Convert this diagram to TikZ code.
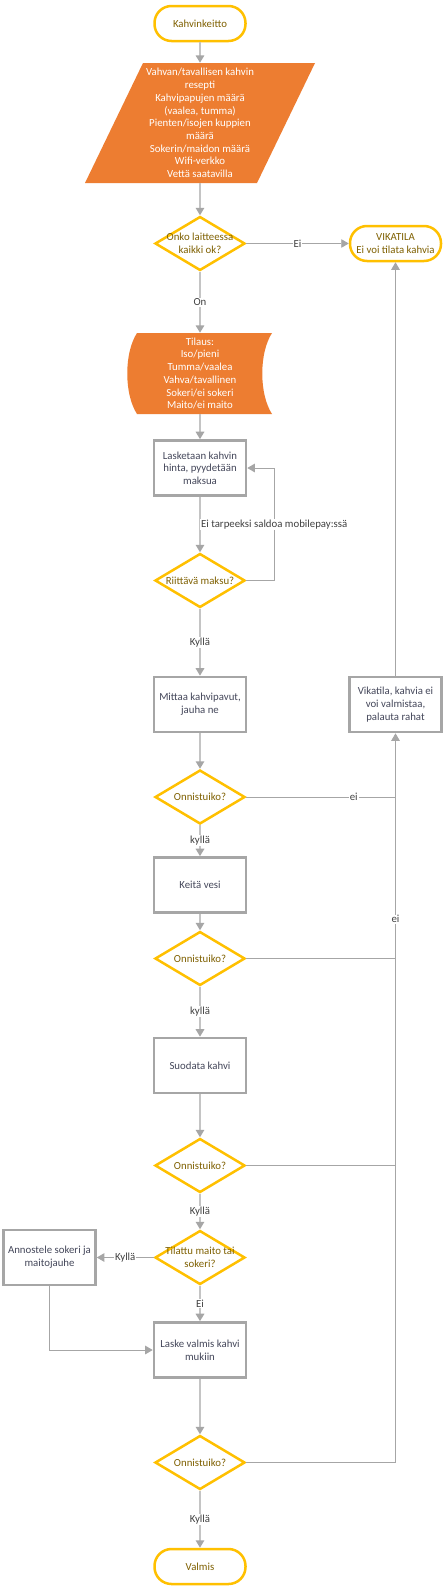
\documentclass[tikz,border=0pt]{standalone}
\usepackage{fontspec}
\setmainfont{Carlito}
\usetikzlibrary{shapes.geometric,arrows.meta}
\definecolor{gold}{HTML}{FFC000}
\definecolor{orng}{HTML}{ED7D31}
\definecolor{gtext}{HTML}{7F6000}
\definecolor{btext}{HTML}{44475A}
\definecolor{lgray}{HTML}{A6A6A6}
\definecolor{flowgray}{HTML}{C4C4C4}
\definecolor{ltext}{HTML}{404040}
\begin{document}
\begin{tikzpicture}[x=1pt,y=-1pt,
  font=\fontsize{10.8}{12.7}\selectfont,
  term/.style={rectangle, rounded corners=17pt, draw=gold, line width=2.5pt,
    minimum width=91pt, minimum height=35pt, text=gtext, align=center, inner sep=0pt},
  decision/.style={diamond, draw=gold, line width=2.5pt, minimum width=90pt,
    minimum height=54pt, inner sep=0pt},
  dtext/.style={text=gtext, align=center, inner sep=0pt},
  procbox/.style={rectangle, draw=lgray, line width=2.6pt, minimum width=92pt,
    minimum height=55pt, text=btext, align=center, inner sep=0pt},
  orangetext/.style={text=white, align=center, inner sep=0pt},
  flow/.style={draw=flowgray, line width=1.6pt,
    -{Triangle[width=8.5pt,length=7.5pt,color=lgray]}},
  sideline/.style={draw=lgray, line width=0.9pt},
  sidearrow/.style={draw=lgray, line width=0.9pt,
    -{Triangle[width=8.5pt,length=7.5pt,color=lgray]}},
  lbl/.style={fill=white, text=ltext, inner sep=1pt}
]
\fill[white] (0,0) rectangle (445,1590);
\useasboundingbox (0,0) rectangle (445,1590);

% shapes with custom outlines
\fill[orng] (143,63) -- (315,63) -- (257,183) -- (85,183) -- cycle;
\fill[orng] (137,333) -- (272,333) .. controls (259,353) and (259,394) .. (272,414)
  -- (137,414) .. controls (124,394) and (124,353) .. (137,333) -- cycle;

% nodes
\node[term] (start) at (200,23.5) {Kahvinkeitto};
\node[orangetext, minimum width=172pt, minimum height=120pt] (input) at (200,123)
  {Vahvan/tavallisen kahvin\\resepti\\Kahvipapujen määrä\\(vaalea, tumma)\\Pienten/isojen kuppien\\määrä\\Sokerin/maidon määrä\\Wifi-verkko\\Vettä saatavilla};
\node[decision] (d1) at (200,243.5) {};
\node[dtext] (d1t) at (d1) {Onko laitteessa\\kaikki ok?};
\node[term] (vika) at (395.5,243.5) {VIKATILA\\Ei voi tilata kahvia};
\node[orangetext, minimum width=144pt, minimum height=81pt] (tilaus) at (200,373.5)
  {Tilaus:\\Iso/pieni\\Tumma/vaalea\\Vahva/tavallinen\\Sokeri/ei sokeri\\Maito/ei maito};
\node[procbox] (lask) at (200,468) {Lasketaan kahvin\\hinta, pyydetään\\maksua};
\node[decision] (riit) at (200,580.5) {};
\node[dtext] (riitt) at (riit) {Riittävä maksu?};
\node[procbox] (mittaa) at (200,704.5) {Mittaa kahvipavut,\\jauha ne};
\node[procbox] (vikab) at (395.5,704.5) {Vikatila, kahvia ei\\voi valmistaa,\\palauta rahat};
\node[decision] (on1) at (200,797) {};
\node[dtext] (on1t) at (on1) {Onnistuiko?};
\node[procbox] (keita) at (200,885) {Keitä vesi};
\node[decision] (on2) at (200,958.5) {};
\node[dtext] (on2t) at (on2) {Onnistuiko?};
\node[procbox] (suod) at (200,1065.5) {Suodata kahvi};
\node[decision] (on3) at (200,1165.5) {};
\node[dtext] (on3t) at (on3) {Onnistuiko?};
\node[decision] (tilattu) at (200,1257.5) {};
\node[dtext] (tilattut) at (tilattu) {Tilattu maito tai\\sokeri?};
\node[procbox] (annos) at (49.5,1257.5) {Annostele sokeri ja\\maitojauhe};
\node[procbox] (laske) at (200,1350) {Laske valmis kahvi\\mukiin};
\node[decision] (on4) at (200,1462.5) {};
\node[dtext] (on4t) at (on4) {Onnistuiko?};
\node[term] (valmis) at (200,1566.5) {Valmis};

% connectors
\draw[flow] (start.south) -- (input.north);
\draw[flow] (input.south) -- (d1.north);
\draw[sidearrow] (d1.east) -- node[lbl] (lei1) {Ei} (vika.west);
\draw[flow] (d1.south) -- node[lbl] (lon) {On} (tilaus.north);
\draw[flow] (tilaus.south) -- (lask.north);
\draw[flow] (lask.south) -- (riit.north);
\draw[sidearrow] (riit.east) -- ++(28,0) |- node[lbl, pos=0.25] (lsaldo) {Ei tarpeeksi saldoa mobilepay:ssä} (lask.east);
\draw[flow] (riit.south) -- node[lbl] (lk1) {Kyllä} (mittaa.north);
\draw[flow] (mittaa.south) -- (on1.north);
\draw[sideline] (on1.east) -- node[lbl, pos=0.72] (lei2) {ei} (on1.east -| vikab.south);
\draw[flow] (on1.south) -- node[lbl] (lk2) {kyllä} (keita.north);
\draw[flow] (keita.south) -- (on2.north);
\draw[sideline] (on2.east) -- (on2.east -| vikab.south);
\draw[flow] (on2.south) -- node[lbl] (lk3) {kyllä} (suod.north);
\draw[flow] (suod.south) -- (on3.north);
\draw[sideline] (on3.east) -- (on3.east -| vikab.south);
\draw[flow] (on3.south) -- node[lbl] (lk4) {Kyllä} (tilattu.north);
\draw[sidearrow] (tilattu.west) -- node[lbl] (lk5) {Kyllä} (annos.east);
\draw[flow] (tilattu.south) -- node[lbl] (lei3) {Ei} (laske.north);
\draw[sidearrow] (annos.south) |- (laske.west);
\draw[flow] (laske.south) -- (on4.north);
\draw[sidearrow] (on4.east) -- (on4.east -| vikab.south) -- node[lbl, pos=0.745] (lei4) {ei} (vikab.south);
\draw[sidearrow] (vikab.north) -- (vika.south);
\draw[flow] (on4.south) -- node[lbl] (lk6) {Kyllä} (valmis.north);
\end{tikzpicture}
\end{document}
